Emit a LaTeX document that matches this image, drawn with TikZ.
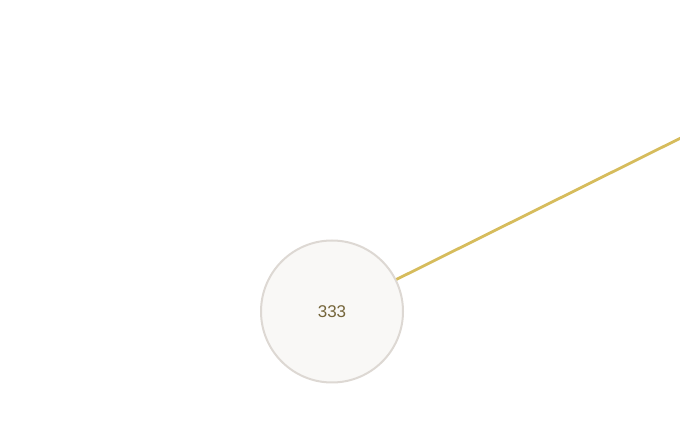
\documentclass[tikz,border=0pt]{standalone}
\usepackage{fontspec}
\setmainfont{Liberation Sans}
\definecolor{linkgold}{HTML}{D6BC5C}
\definecolor{nodefill}{HTML}{F9F8F6}
\definecolor{nodeedge}{HTML}{DDD8D3}
\definecolor{nodetext}{HTML}{75653A}
\tikzset{
  bubble/.style={circle, draw=nodeedge, fill=nodefill, line width=2pt, minimum size=142pt, inner sep=0pt, text=nodetext, font=\fontsize{17}{20}\selectfont},
  link/.style={draw=linkgold, line width=2.8pt}
}
\begin{document}
\begin{tikzpicture}[x=1pt,y=-1pt]
\useasboundingbox (0,0) rectangle (680,427);
\clip (0,0) rectangle (680,427);
\coordinate (far) at (740,108.5);
\node[bubble] (n333) at (332,311.5) {333};
\draw[link] (n333) -- (far);
\end{tikzpicture}
\end{document}
